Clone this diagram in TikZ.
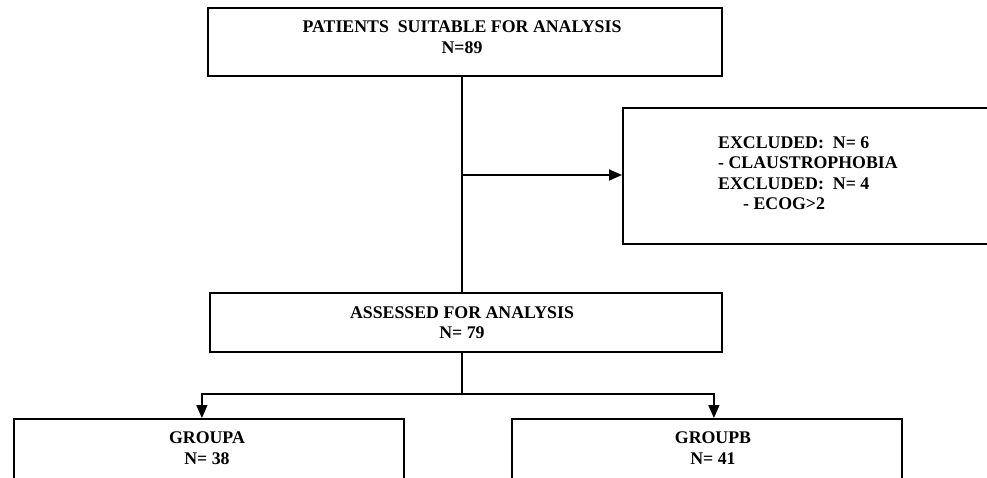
\documentclass[tikz,border=0pt]{standalone}
\usepackage{fontspec}
\setmainfont{Liberation Serif}
\usetikzlibrary{arrows.meta}
\begin{document}
\begin{tikzpicture}[x=1pt,y=-1pt,
  box/.style={draw=black, line width=1.8pt, fill=white, rectangle, inner sep=0pt},
  txt/.style={font=\fontsize{17.8}{20.5}\selectfont\bfseries, align=center, inner sep=0pt},
  conn/.style={draw=black, line width=1.6pt},
  arr/.style={conn, -{Triangle[length=13pt,width=11pt]}}]
\clip (0,0) rectangle (987,477);
\fill[white] (0,0) rectangle (987,477);
% boxes
\node[box, minimum width=514pt, minimum height=68pt] (top) at (465,42) {};
\node[txt] (toptxt) at (462,37) {PATIENTS\ \ SUITABLE FOR ANALYSIS\\N=89};
\node[box, minimum width=400pt, minimum height=136pt, anchor=north west] (excl) at (622,107) {};
\node[txt, align=left, anchor=west] (excltxt) at (718,173) {EXCLUDED:\ \ N= 6\\- CLAUSTROPHOBIA\\EXCLUDED:\ \ N= 4\\\hspace{25pt}- ECOG>2};
\node[box, minimum width=512pt, minimum height=59pt] (as) at (466,322.5) {};
\node[txt] (astxt) at (462,322.5) {ASSESSED FOR ANALYSIS\\N= 79};
\node[box, minimum width=390pt, minimum height=110pt, anchor=north west] (gA) at (13,418) {};
\node[txt] (gAtxt) at (207,448) {GROUPA\\N= 38};
\node[box, minimum width=390pt, minimum height=110pt, anchor=north west] (gB) at (511,418) {};
\node[txt] (gBtxt) at (713,448) {GROUPB\\N= 41};
% connectors
\coordinate (vtop) at (462,76);
\coordinate (split) at (462,175);
\coordinate (br) at (462,394);
\draw[conn] (vtop) -- (split) -- (as.north -| split);
\draw[arr] (split) -- (excl.west |- split);
\draw[conn] (as.south -| br) -- (br);
\draw[arr] (br) -| ([xshift=-7pt]gA.north);
\draw[arr] (br) -| ([xshift=7pt]gB.north);
\end{tikzpicture}
\end{document}
